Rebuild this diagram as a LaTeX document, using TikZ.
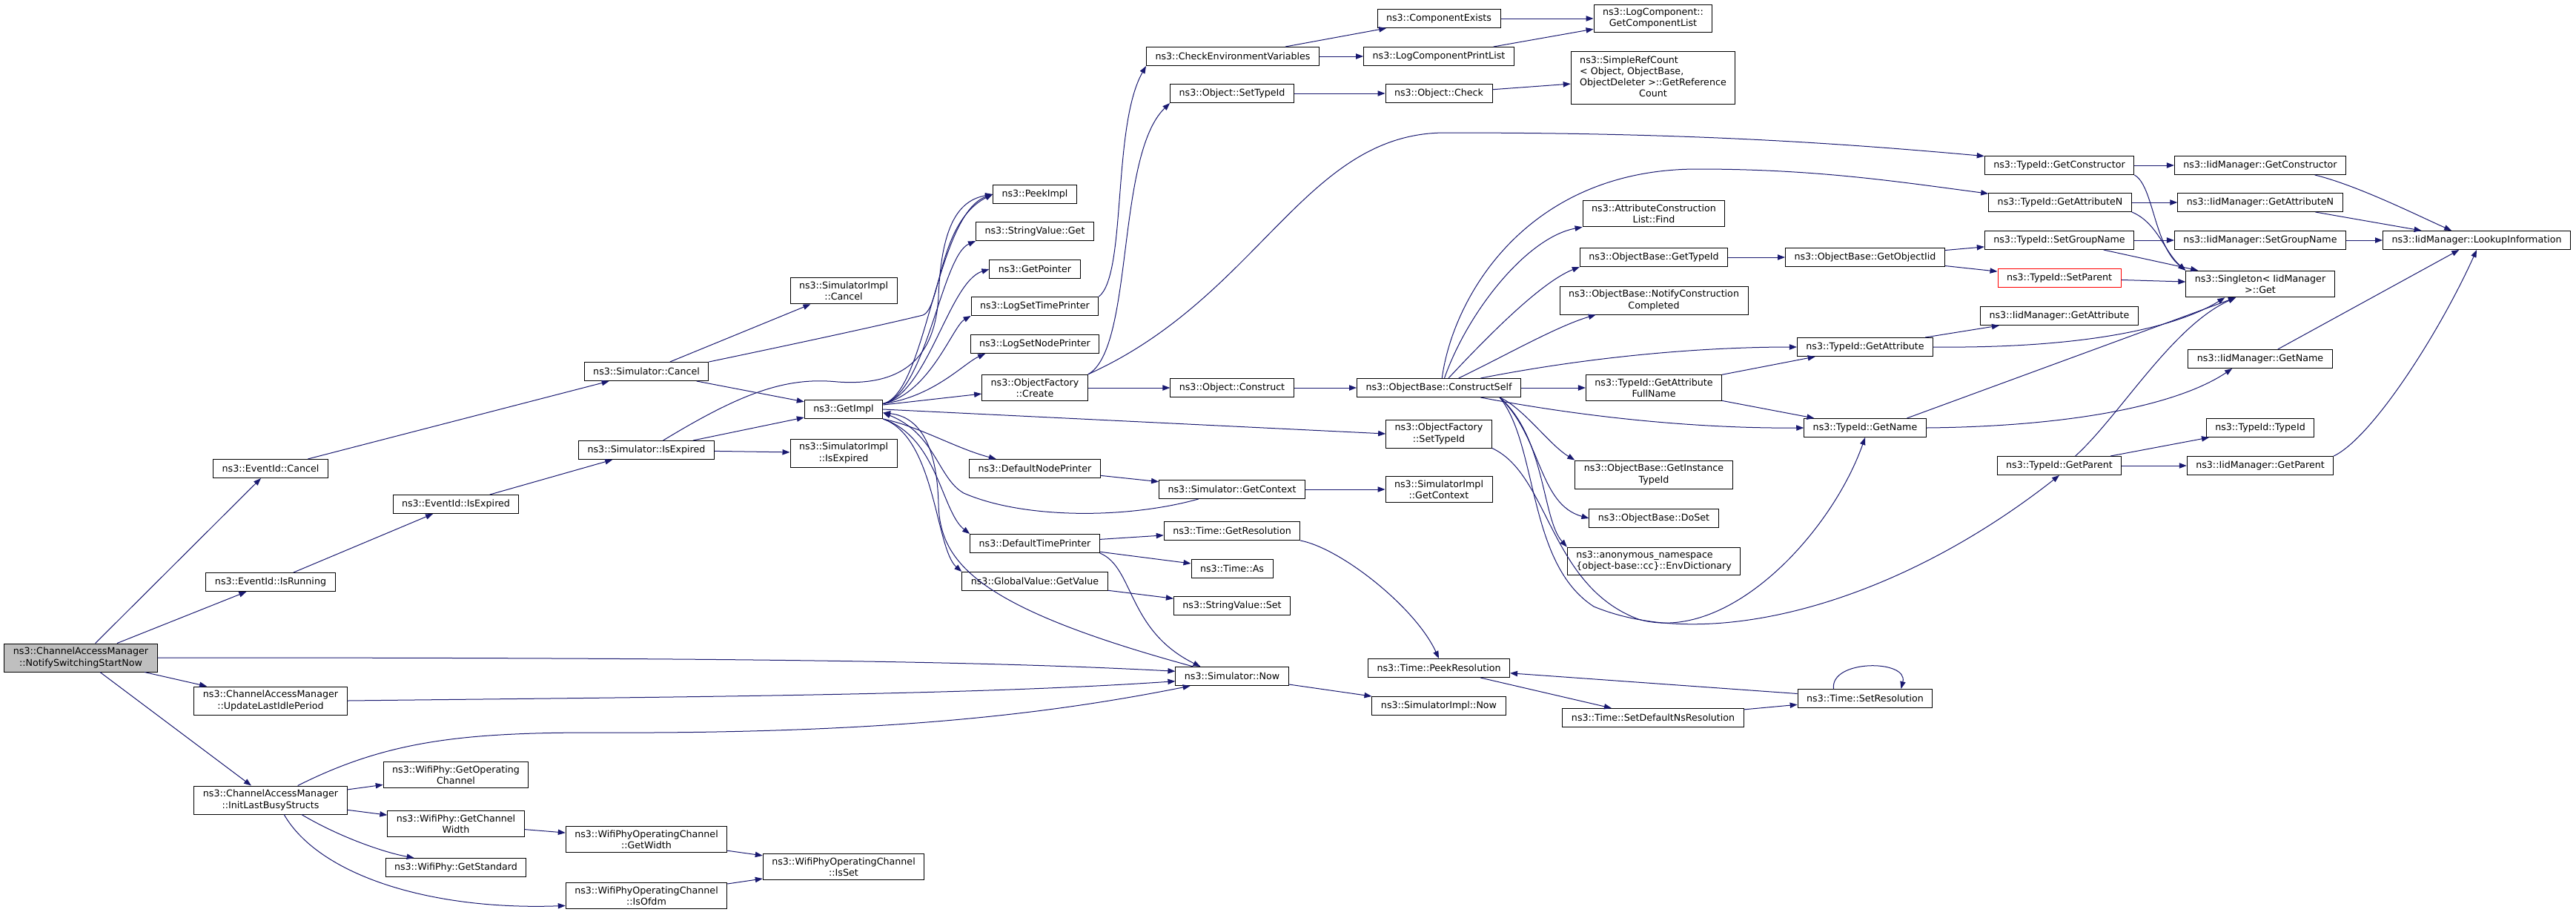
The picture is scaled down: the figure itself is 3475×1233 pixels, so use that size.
\documentclass[tikz,border=0pt]{standalone}
\usepackage{fontspec}
\setmainfont{DejaVu Sans}
\usetikzlibrary{arrows.meta}
\definecolor{edgeblue}{RGB}{25,25,112}
\definecolor{rootgray}{RGB}{191,191,191}

\begin{document}
\begin{tikzpicture}[x=0.75pt, y=-0.75pt, >={Triangle[length=7.5pt,width=5.5pt]}]
      \tikzstyle{fnode} = [draw=black, line width=0.75pt, rectangle, inner xsep=9pt, inner ysep=4pt, minimum height=18.75pt, align=center, font=\fontsize{9.5}{11.3}\selectfont]
      \tikzstyle{rootnode} = [fnode, fill=rootgray]
      \tikzstyle{trunc} = [fnode, draw=red]
      \tikzstyle{call} = [->, draw=edgeblue, line width=0.75pt]

      \useasboundingbox (0,0) rectangle (3475,1233);

      %%%%%%%%%%%%%%%%%%%%%%%%%%%%%%
      %% The caller and its direct calls
      %%%%%%%%%%%%%%%%%%%%%%%%%%%%%%
      \node[rootnode] (notify) at (109,887) {ns3::ChannelAccessManager\\::NotifySwitchingStartNow};
      \node[fnode] (evcancel) at (365,632) {ns3::EventId::Cancel};
      \node[fnode] (evrunning) at (365,785) {ns3::EventId::IsRunning};
      \node[fnode] (update) at (365,945) {ns3::ChannelAccessManager\\::UpdateLastIdlePeriod};
      \node[fnode] (init) at (365,1079) {ns3::ChannelAccessManager\\::InitLastBusyStructs};

      \node[fnode] (evexpired) at (615,680) {ns3::EventId::IsExpired};
      \node[fnode] (getopch) at (615,1045) {ns3::WifiPhy::GetOperating\\Channel};
      \node[fnode] (getchw) at (615,1111) {ns3::WifiPhy::GetChannel\\Width};
      \node[fnode] (getstd) at (615,1170) {ns3::WifiPhy::GetStandard};

      \node[fnode] (simcancel) at (872,501) {ns3::Simulator::Cancel};
      \node[fnode] (simisexp) at (872,607) {ns3::Simulator::IsExpired};
      \node[fnode] (ocwidth) at (872,1132) {ns3::WifiPhyOperatingChannel\\::GetWidth};
      \node[fnode] (ocofdm) at (872,1208) {ns3::WifiPhyOperatingChannel\\::IsOfdm};

      \node[fnode] (implcancel) at (1138,392) {ns3::SimulatorImpl\\::Cancel};
      \node[fnode] (getimpl) at (1138,552) {ns3::GetImpl};
      \node[fnode] (implisexp) at (1138,611) {ns3::SimulatorImpl\\::IsExpired};
      \node[fnode] (ocisset) at (1138,1169) {ns3::WifiPhyOperatingChannel\\::IsSet};

      %%%%%%%%%%%%%%%%%%%%%%%%%%%%%%
      %% Simulator and logging
      %%%%%%%%%%%%%%%%%%%%%%%%%%%%%%
      \node[fnode] (peekimpl) at (1396,262) {ns3::PeekImpl};
      \node[fnode] (strget) at (1396,312) {ns3::StringValue::Get};
      \node[fnode] (getptr) at (1396,363) {ns3::GetPointer};
      \node[fnode] (logtime) at (1396,413) {ns3::LogSetTimePrinter};
      \node[fnode] (lognode) at (1396,464) {ns3::LogSetNodePrinter};
      \node[fnode] (ofcreate) at (1396,523) {ns3::ObjectFactory\\::Create};
      \node[fnode] (dnp) at (1396,632) {ns3::DefaultNodePrinter};
      \node[fnode] (dtp) at (1396,733) {ns3::DefaultTimePrinter};
      \node[fnode] (gvget) at (1396,784) {ns3::GlobalValue::GetValue};

      \node[fnode] (checkenv) at (1663,76) {ns3::CheckEnvironmentVariables};
      \node[fnode] (objsettid) at (1662,126) {ns3::Object::SetTypeId};
      \node[fnode] (objconstruct) at (1662,523) {ns3::Object::Construct};
      \node[fnode] (simctx) at (1662,660) {ns3::Simulator::GetContext};
      \node[fnode] (getres) at (1662,716) {ns3::Time::GetResolution};
      \node[fnode] (timeas) at (1662,767) {ns3::Time::As};
      \node[fnode] (strset) at (1662,817) {ns3::StringValue::Set};
      \node[fnode] (now) at (1662,912) {ns3::Simulator::Now};

      \node[fnode] (compexists) at (1941,25) {ns3::ComponentExists};
      \node[fnode] (printlist) at (1941,76) {ns3::LogComponentPrintList};
      \node[fnode] (objcheck) at (1941,126) {ns3::Object::Check};
      \node[fnode] (constructself) at (1941,523) {ns3::ObjectBase::ConstructSelf};
      \node[fnode] (ofsettid) at (1941,585) {ns3::ObjectFactory\\::SetTypeId};
      \node[fnode] (implctx) at (1941,660) {ns3::SimulatorImpl\\::GetContext};
      \node[fnode] (peekres) at (1941,901) {ns3::Time::PeekResolution};
      \node[fnode] (implnow) at (1941,952) {ns3::SimulatorImpl::Now};

      %%%%%%%%%%%%%%%%%%%%%%%%%%%%%%
      %% Object construction and type ids
      %%%%%%%%%%%%%%%%%%%%%%%%%%%%%%
      \node[fnode] (complist) at (2230,25) {ns3::LogComponent::\\GetComponentList};
      \node[fnode] (refcount) at (2230,105) {\begin{tabular}{@{}l@{}}ns3::SimpleRefCount\\< Object, ObjectBase,\\\multicolumn{1}{@{}c@{}}{ObjectDeleter >::GetReference}\\\multicolumn{1}{@{}c@{}}{Count}\end{tabular}};
      \node[fnode] (acfind) at (2231,288) {ns3::AttributeConstruction\\List::Find};
      \node[fnode] (obgettid) at (2231,347) {ns3::ObjectBase::GetTypeId};
      \node[fnode] (notifycc) at (2231,405) {ns3::ObjectBase::NotifyConstruction\\Completed};
      \node[fnode] (tidfull) at (2231,523) {ns3::TypeId::GetAttribute\\FullName};
      \node[fnode] (getinsttid) at (2231,640) {ns3::ObjectBase::GetInstance\\TypeId};
      \node[fnode] (doset) at (2231,699) {ns3::ObjectBase::DoSet};
      \node[fnode, align=left] (envdict) at (2231,757) {ns3::anonymous\_namespace\\\{object-base::cc\}::EnvDictionary};
      \node[fnode] (setdefns) at (2230,968) {ns3::Time::SetDefaultNsResolution};

      \node[fnode] (getobjiid) at (2516,347) {ns3::ObjectBase::GetObjectIid};
      \node[fnode] (tidgetattr) at (2516,468) {ns3::TypeId::GetAttribute};
      \node[fnode] (tidgetname) at (2516,577) {ns3::TypeId::GetName};
      \node[fnode] (setres) at (2516,942) {ns3::Time::SetResolution};

      \node[fnode] (tidctor) at (2778,223) {ns3::TypeId::GetConstructor};
      \node[fnode] (tidattrn) at (2779,273) {ns3::TypeId::GetAttributeN};
      \node[fnode] (tidgroup) at (2778,324) {ns3::TypeId::SetGroupName};
      \node[trunc] (tidsetparent) at (2778,375) {ns3::TypeId::SetParent};
      \node[fnode] (iidattr) at (2778,426) {ns3::IidManager::GetAttribute};
      \node[fnode] (tidgetparent) at (2778,628) {ns3::TypeId::GetParent};

      \node[fnode] (iidctor) at (3049,223) {ns3::IidManager::GetConstructor};
      \node[fnode] (iidattrn) at (3049,273) {ns3::IidManager::GetAttributeN};
      \node[fnode] (iidgroup) at (3049,324) {ns3::IidManager::SetGroupName};
      \node[fnode] (singleton) at (3049,383) {ns3::Singleton< IidManager\\ >::Get};
      \node[fnode] (iidname) at (3049,484) {ns3::IidManager::GetName};
      \node[fnode] (tidtypeid) at (3049,577) {ns3::TypeId::TypeId};
      \node[fnode] (iidparent) at (3049,628) {ns3::IidManager::GetParent};

      \node[fnode] (lookup) at (3341,324) {ns3::IidManager::LookupInformation};

      % edges from the caller
      \draw[call] (notify) -- (evcancel);
      \draw[call] (notify) -- (evrunning);
      \draw[call] (notify.east) .. controls (900,887) and (1300,890) .. (now.175);
      \draw[call] (notify) -- (update);
      \draw[call] (notify) -- (init);

      \draw[call] (evcancel) -- (simcancel);
      \draw[call] (evrunning) -- (evexpired);
      \draw[call] (evexpired) -- (simisexp);
      \draw[call] (update.east) .. controls (900,940) and (1300,938) .. (now.185);

      % edges of InitLastBusyStructs
      \draw[call] (init) -- (getopch);
      \draw[call] (init) -- (getchw);
      \draw[call] (init.-25) .. controls (460,1130) and (520,1150) .. (getstd.167);
      \draw[call] (init.-47) .. controls (430,1180) and (580,1228) .. (ocofdm.187);
      \draw[call] (init.28) .. controls (520,1000) and (620,988) .. (800,988) .. controls (1200,990) and (1420,962) .. (now.193);
      \draw[call] (getchw) -- (ocwidth);
      \draw[call] (ocwidth) -- (ocisset);
      \draw[call] (ocofdm) -- (ocisset);

      % edges of the simulator calls
      \draw[call] (simcancel) -- (implcancel);
      \draw[call] (simcancel) -- (getimpl);
      \draw[call] (simcancel.north east) .. controls (1100,458) and (1200,436) .. (1245,425) .. controls (1270,415) and (1265,300) .. (peekimpl.west);
      \draw[call] (simisexp) -- (getimpl);
      \draw[call] (simisexp) -- (implisexp);
      \draw[call] (simisexp.30) .. controls (1000,530) and (1060,508) .. (1130,515) .. controls (1230,522) and (1262,470) .. (1266,400) .. controls (1270,300) and (1295,270) .. (peekimpl.west);

      % edges of GetImpl
      \draw[call] (getimpl.8) .. controls (1250,530) and (1262,290) .. (peekimpl.west);
      \draw[call] (getimpl.8) .. controls (1250,530) and (1270,345) .. (strget.south west);
      \draw[call] (getimpl.8) .. controls (1252,530) and (1280,380) .. (getptr.west);
      \draw[call] (getimpl.8) .. controls (1255,530) and (1285,440) .. (logtime.south west);
      \draw[call] (getimpl.8) .. controls (1260,535) and (1300,490) .. (lognode.191);
      \draw[call] (getimpl) -- (ofcreate);
      \draw[call] (getimpl.east) -- (ofsettid.west);
      \draw[call] (getimpl.south east) .. controls (1240,575) and (1290,605) .. (dnp.166);
      \draw[call] (getimpl.south east) .. controls (1265,590) and (1270,690) .. (dtp.north west);
      \draw[call] (getimpl.south east) .. controls (1262,590) and (1262,740) .. (gvget.north west);
      \draw[call] (now.166) .. controls (1320,820) and (1268,760) .. (1266,680) .. controls (1264,600) and (1240,562) .. (getimpl.-5);
      \draw[call] (simctx.196) .. controls (1520,700) and (1380,700) .. (1300,665) .. controls (1265,645) and (1262,585) .. (getimpl.-5);

      % edges of the printers and time
      \draw[call] (dnp) -- (simctx);
      \draw[call] (simctx) -- (implctx);
      \draw[call] (dtp) -- (getres);
      \draw[call] (dtp) -- (timeas);
      \draw[call] (dtp.south east) .. controls (1530,765) and (1520,850) .. (now.163);
      \draw[call] (gvget) -- (strset);
      \draw[call] (getres.south east) .. controls (1810,740) and (1910,820) .. (peekres.north);
      \draw[call] (now) -- (implnow);
      \draw[call] (peekres) -- (setdefns);
      \draw[call] (setdefns) -- (setres);
      \draw[call] (setres) -- (peekres);
      \draw[call] (setres.163) .. controls +(-5,-40) and +(10,-40) .. (setres.15);

      % edges of logging and object creation
      \draw[call] (checkenv) -- (compexists);
      \draw[call] (checkenv) -- (printlist);
      \draw[call] (compexists) -- (complist);
      \draw[call] (printlist) -- (complist);
      \draw[call] (objsettid) -- (objcheck);
      \draw[call] (objcheck) -- (refcount);
      \draw[call] (logtime.north east) .. controls (1520,370) and (1500,170) .. (checkenv.south west);
      \draw[call] (ofcreate.north east) .. controls (1530,470) and (1505,210) .. (objsettid.south west);
      \draw[call] (ofcreate.north east) .. controls (1700,400) and (1760,179) .. (1950,179) .. controls (2250,179) and (2450,190) .. (tidctor.173);
      \draw[call] (ofcreate) -- (objconstruct);
      \draw[call] (objconstruct) -- (constructself);

      % edges of ConstructSelf
      \draw[call] (constructself.72) .. controls (1960,400) and (2060,228) .. (2290,228) .. controls (2450,228) and (2560,245) .. (tidattrn.173);
      \draw[call] (constructself.60) .. controls (1980,420) and (2060,320) .. (acfind.south west);
      \draw[call] (constructself.45) .. controls (2010,450) and (2080,380) .. (obgettid.south west);
      \draw[call] (constructself.26) .. controls (2030,480) and (2100,440) .. (notifycc.194);
      \draw[call] (constructself.13) .. controls (2150,480) and (2300,468) .. (tidgetattr.west);
      \draw[call] (constructself) -- (tidfull);
      \draw[call] (constructself.-13) .. controls (2150,565) and (2300,578) .. (tidgetname.west);
      \draw[call] (constructself.-9) .. controls (2055,550) and (2090,600) .. (getinsttid.north west);
      \draw[call] (constructself.-9) .. controls (2080,590) and (2075,680) .. (doset.west);
      \draw[call] (constructself.-9) .. controls (2085,590) and (2080,700) .. (envdict.north west);
      \draw[call] (constructself.-9) .. controls (2075,600) and (2060,760) .. (2150,818) .. controls (2300,880) and (2550,820) .. (tidgetparent.south);
      \draw[call] (ofsettid.south east) .. controls (2090,640) and (2090,790) .. (2210,835) .. controls (2330,870) and (2470,720) .. (tidgetname.south);

      % edges of the type ids
      \draw[call] (obgettid) -- (getobjiid);
      \draw[call] (getobjiid) -- (tidgroup);
      \draw[call] (getobjiid) -- (tidsetparent);
      \draw[call] (tidfull) -- (tidgetattr);
      \draw[call] (tidfull) -- (tidgetname);
      \draw[call] (tidgetattr) -- (iidattr);
      \draw[call] (tidgetattr.east) .. controls (2800,470) and (2930,445) .. (singleton.201);
      \draw[call] (tidgetname.13) -- (singleton.209);
      \draw[call] (tidgetname.east) .. controls (2800,575) and (2940,545) .. (iidname.199);
      \draw[call] (tidctor) -- (iidctor);
      \draw[call] (tidctor.south east) .. controls (2905,250) and (2905,330) .. (singleton.north west);
      \draw[call] (tidattrn) -- (iidattrn);
      \draw[call] (tidattrn.south east) .. controls (2910,300) and (2920,340) .. (singleton.north west);
      \draw[call] (tidgroup) -- (iidgroup);
      \draw[call] (tidgroup) -- (singleton);
      \draw[call] (tidsetparent) -- (singleton);
      \draw[call] (tidgetparent) -- (tidtypeid);
      \draw[call] (tidgetparent) -- (iidparent);
      \draw[call] (tidgetparent.31) .. controls (2860,560) and (2930,440) .. (singleton.209);

      % edges into LookupInformation
      \draw[call] (iidctor.-10) .. controls (3180,250) and (3260,290) .. (lookup.159);
      \draw[call] (iidattrn) -- (lookup);
      \draw[call] (iidgroup) -- (lookup);
      \draw[call] (iidname) -- (lookup);
      \draw[call] (iidparent.north east) .. controls (3200,590) and (3290,450) .. (lookup.south);
\end{tikzpicture}
\end{document}
